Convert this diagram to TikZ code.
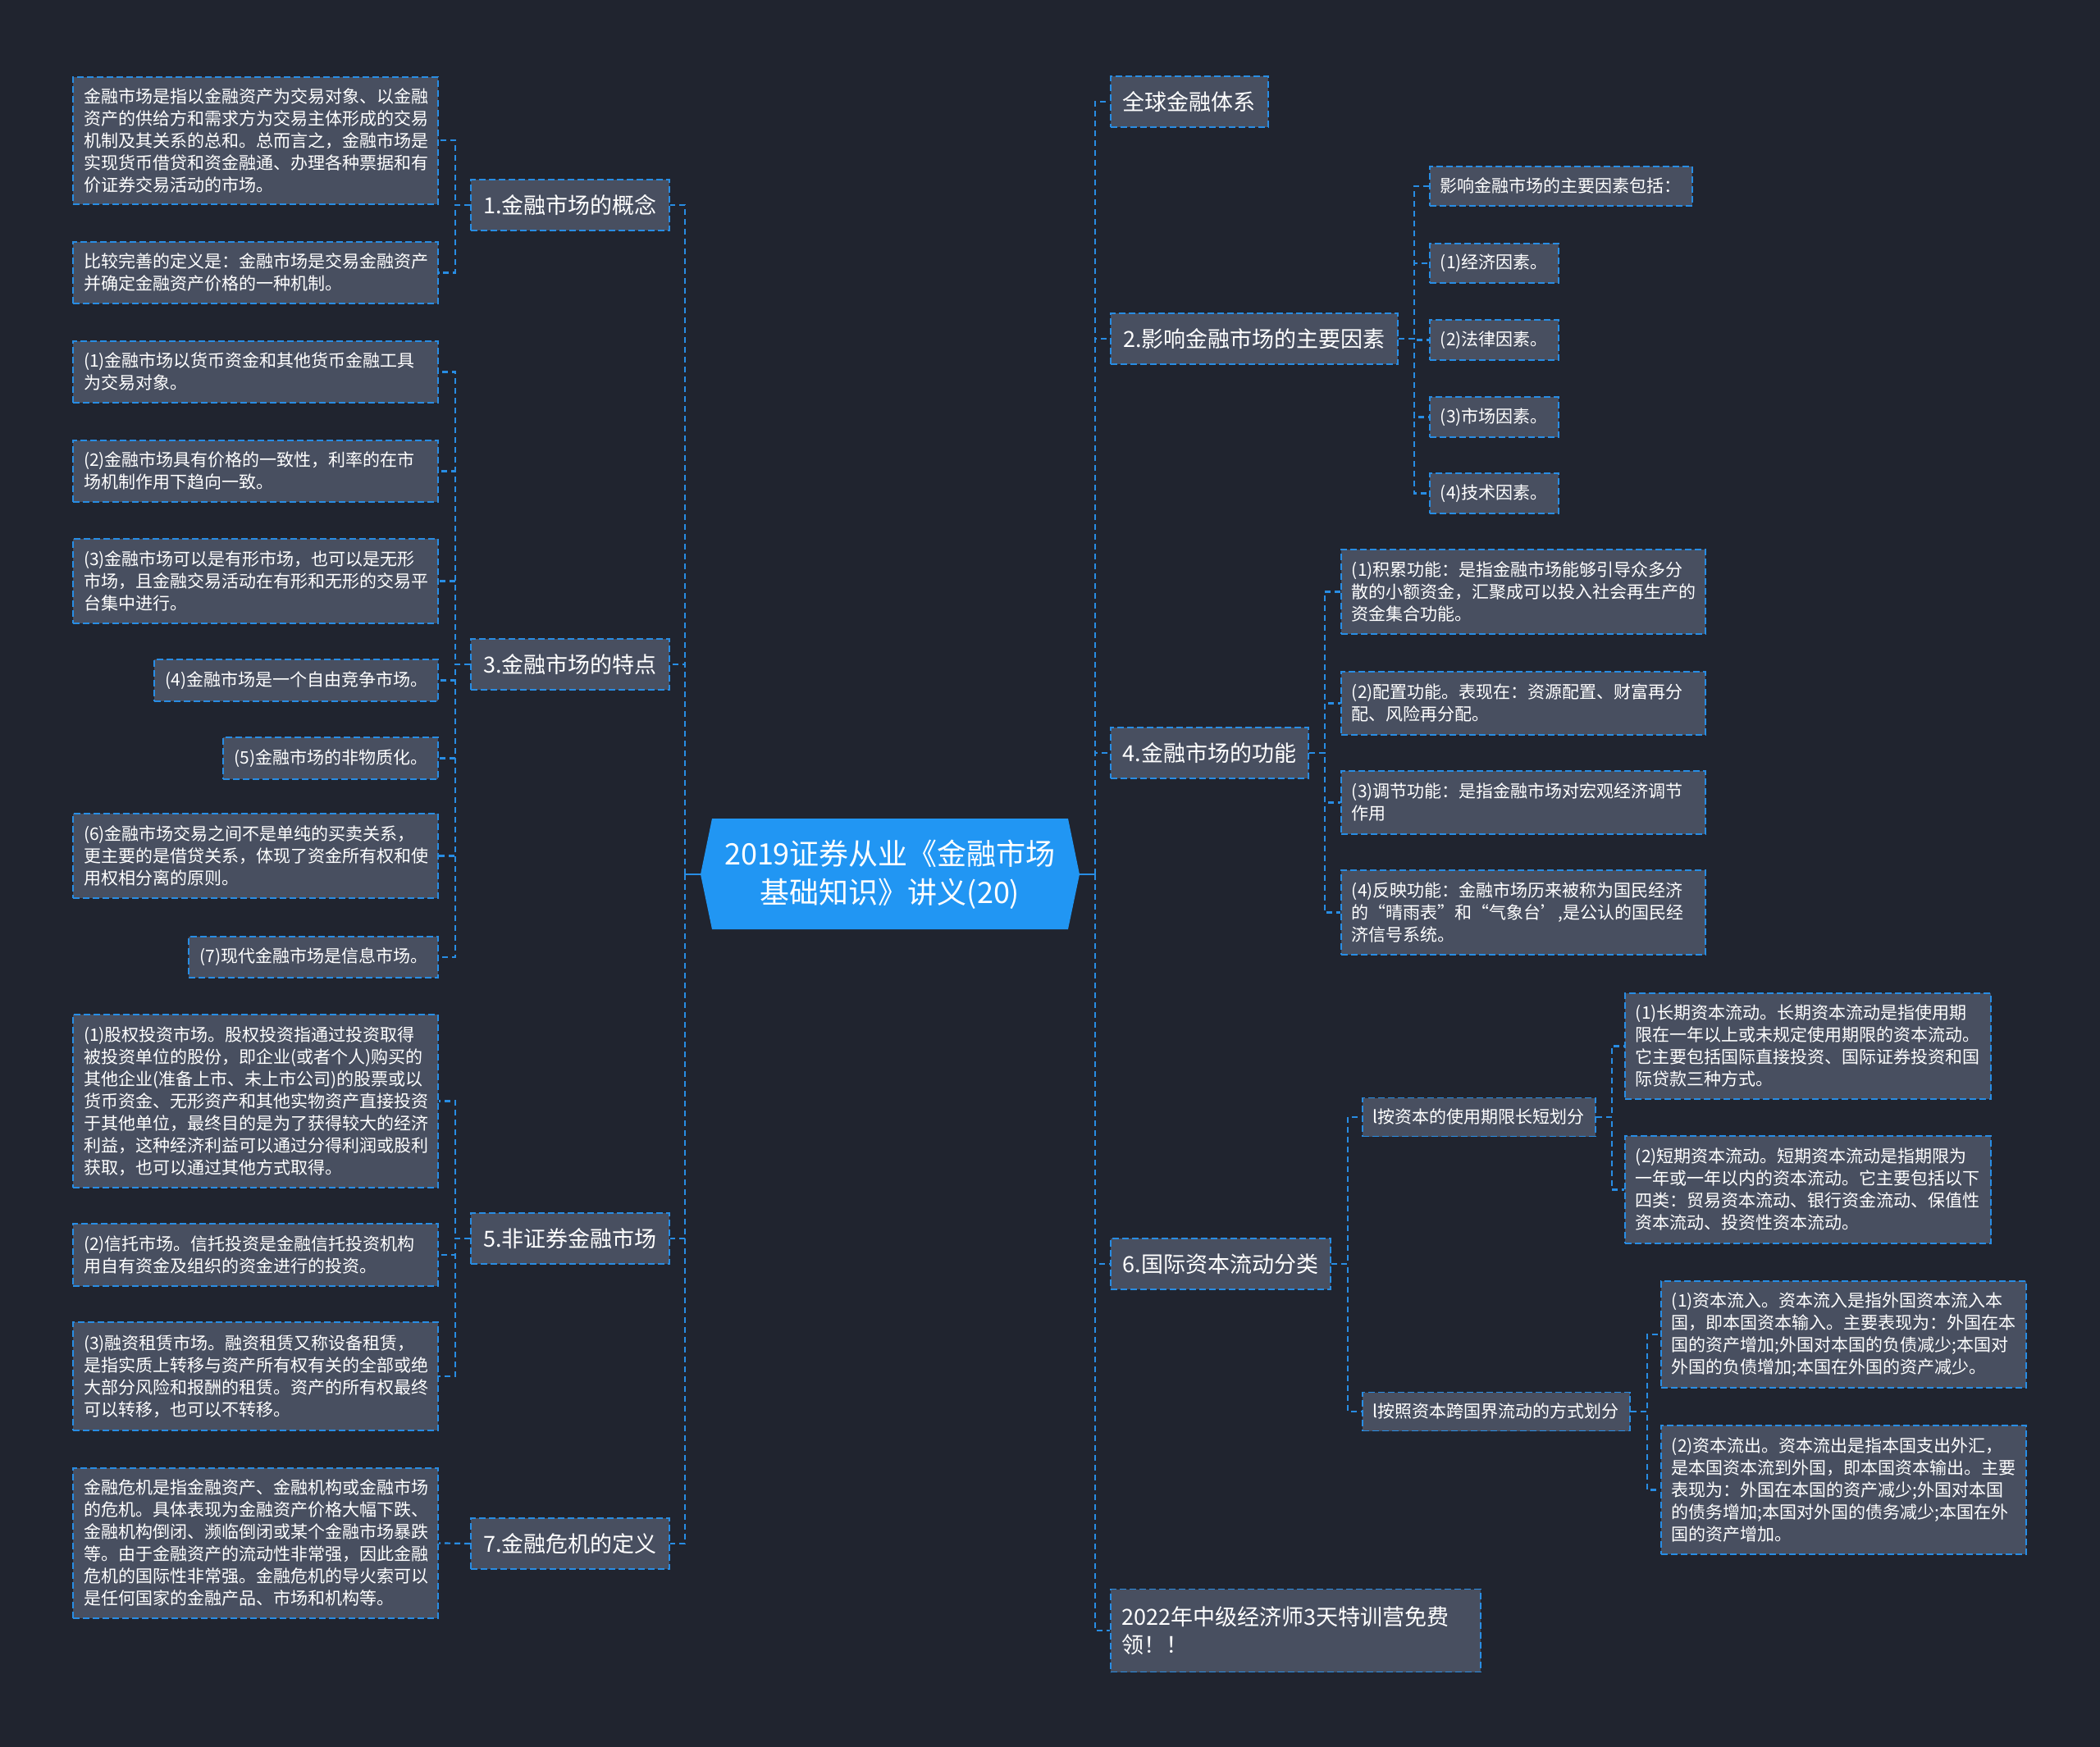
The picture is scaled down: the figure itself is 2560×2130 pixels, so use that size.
\documentclass[tikz,border=0pt]{standalone}
\usepackage{fontspec}
\setmainfont{Noto Sans CJK SC}
\definecolor{bgc}{HTML}{20242F}
\definecolor{boxc}{HTML}{484F60}
\definecolor{linec}{HTML}{288DE4}
\definecolor{centerc}{HTML}{2196F3}
\tikzset{
  box/.style={draw=linec, line width=1.8pt, dash pattern=on 8pt off 4pt, fill=boxc, text=white, inner xsep=13pt, inner ysep=4pt, align=left},
  leaf/.style={box, font=\fontsize{21}{27}\selectfont},
  lleaf/.style={leaf, anchor=north east},
  rleaf/.style={leaf, anchor=north west},
  cat/.style={box, font=\fontsize{27}{34}\selectfont, inner xsep=14pt, minimum height=62pt},
  link/.style={draw=linec, line width=2.2pt, dash pattern=on 7pt off 5pt},
  solidlink/.style={draw=linec, line width=2.6pt},
}
\begin{document}
\begin{tikzpicture}[x=1pt,y=-1pt]
\useasboundingbox (0,0) rectangle (2560,2130);
\fill[bgc] (0,0) rectangle (2560,2130);

% center
\fill[centerc] (854,1066) -- (868,998) -- (1302,998) -- (1316,1066) -- (1302,1133) -- (868,1133) -- cycle;
\node[text=white, font=\fontsize{36}{47}\selectfont, align=center, minimum width=462pt, minimum height=135pt, inner sep=0pt] (center) at (1085,1066) {2019证券从业《金融市场\\基础知识》讲义(20)};

% left categories
\node[cat, anchor=west, minimum width=242pt] (c1) at (573,250) {1.金融市场的概念};
\node[cat, anchor=west, minimum width=242pt] (c3) at (573,810) {3.金融市场的特点};
\node[cat, anchor=west, minimum width=242pt] (c5) at (573,1510) {5.非证券金融市场};
\node[cat, anchor=west, minimum width=242pt] (c7) at (573,1882) {7.金融危机的定义};

% left leaves
\node[lleaf, text width=419pt, minimum height=155pt] (l1a) at (535,93) {金融市场是指以金融资产为交易对象、以金融\\资产的供给方和需求方为交易主体形成的交易\\机制及其关系的总和。总而言之，金融市场是\\实现货币借贷和资金融通、办理各种票据和有\\价证券交易活动的市场。};
\node[lleaf, text width=419pt, minimum height=75pt] (l1b) at (535,294) {比较完善的定义是：金融市场是交易金融资产\\并确定金融资产价格的一种机制。};

\node[lleaf, text width=419pt, minimum height=75pt] (l3a) at (535,415) {(1)金融市场以货币资金和其他货币金融工具\\为交易对象。};
\node[lleaf, text width=419pt, minimum height=75pt] (l3b) at (535,536) {(2)金融市场具有价格的一致性，利率的在市\\场机制作用下趋向一致。};
\node[lleaf, text width=419pt, minimum height=103pt] (l3c) at (535,656) {(3)金融市场可以是有形市场，也可以是无形\\市场，且金融交易活动在有形和无形的交易平\\台集中进行。};
\node[lleaf, minimum height=51pt] (l3d) at (535,803) {(4)金融市场是一个自由竞争市场。};
\node[lleaf, minimum height=51pt] (l3e) at (535,898) {(5)金融市场的非物质化。};
\node[lleaf, text width=419pt, minimum height=103pt] (l3f) at (535,991) {(6)金融市场交易之间不是单纯的买卖关系，\\更主要的是借贷关系，体现了资金所有权和使\\用权相分离的原则。};
\node[lleaf, minimum height=50pt] (l3g) at (535,1141) {(7)现代金融市场是信息市场。};

\node[lleaf, text width=419pt, minimum height=211pt] (l5a) at (535,1236) {(1)股权投资市场。股权投资指通过投资取得\\被投资单位的股份，即企业(或者个人)购买的\\其他企业(准备上市、未上市公司)的股票或以\\货币资金、无形资产和其他实物资产直接投资\\于其他单位，最终目的是为了获得较大的经济\\利益，这种经济利益可以通过分得利润或股利\\获取，也可以通过其他方式取得。};
\node[lleaf, text width=419pt, minimum height=76pt] (l5b) at (535,1491) {(2)信托市场。信托投资是金融信托投资机构\\用自有资金及组织的资金进行的投资。};
\node[lleaf, text width=419pt, minimum height=132pt] (l5c) at (535,1611) {(3)融资租赁市场。融资租赁又称设备租赁，\\是指实质上转移与资产所有权有关的全部或绝\\大部分风险和报酬的租赁。资产的所有权最终\\可以转移，也可以不转移。};

\node[lleaf, text width=419pt, minimum height=183pt] (l7) at (535,1789) {金融危机是指金融资产、金融机构或金融市场\\的危机。具体表现为金融资产价格大幅下跌、\\金融机构倒闭、濒临倒闭或某个金融市场暴跌\\等。由于金融资产的流动性非常强，因此金融\\危机的国际性非常强。金融危机的导火索可以\\是任何国家的金融产品、市场和机构等。};

% right categories
\node[cat, anchor=west, minimum width=192pt] (r0) at (1353,124) {全球金融体系};
\node[cat, anchor=west, minimum width=350pt] (c2) at (1353,413) {2.影响金融市场的主要因素};
\node[cat, anchor=west, minimum width=241pt] (c4) at (1353,918) {4.金融市场的功能};
\node[cat, anchor=west, minimum width=268pt] (c6) at (1353,1541) {6.国际资本流动分类};
\node[cat, anchor=west, text width=423pt, minimum height=101pt] (r9) at (1353,1988) {2022年中级经济师3天特训营免费\\领！！};

% c2 leaves
\node[rleaf, minimum height=48pt] (l2a) at (1742,202) {影响金融市场的主要因素包括：};
\node[rleaf, minimum height=48pt] (l2b) at (1742,296) {(1)经济因素。};
\node[rleaf, minimum height=49pt] (l2c) at (1742,389) {(2)法律因素。};
\node[rleaf, minimum height=49pt] (l2d) at (1742,483) {(3)市场因素。};
\node[rleaf, minimum height=49pt] (l2e) at (1742,576) {(4)技术因素。};

% c4 leaves
\node[rleaf, text width=418pt, minimum height=103pt] (l4a) at (1634,669) {(1)积累功能：是指金融市场能够引导众多分\\散的小额资金，汇聚成可以投入社会再生产的\\资金集合功能。};
\node[rleaf, text width=418pt, minimum height=77pt] (l4b) at (1634,818) {(2)配置功能。表现在：资源配置、财富再分\\配、风险再分配。};
\node[rleaf, text width=418pt, minimum height=77pt] (l4c) at (1634,939) {(3)调节功能：是指金融市场对宏观经济调节\\作用};
\node[rleaf, text width=418pt, minimum height=103pt] (l4d) at (1634,1060) {(4)反映功能：金融市场历来被称为国民经济\\的“晴雨表”和“气象台’,是公认的国民经\\济信号系统。};

% c6 subs
\node[leaf, anchor=west, minimum height=47pt] (s1) at (1660,1362) {l按资本的使用期限长短划分};
\node[leaf, anchor=west, minimum height=47pt] (s2) at (1660,1721) {l按照资本跨国界流动的方式划分};

\node[rleaf, text width=420pt, minimum height=129pt] (l6a) at (1980,1210) {(1)长期资本流动。长期资本流动是指使用期\\限在一年以上或未规定使用期限的资本流动。\\它主要包括国际直接投资、国际证券投资和国\\际贷款三种方式。};
\node[rleaf, text width=420pt, minimum height=131pt] (l6b) at (1980,1384) {(2)短期资本流动。短期资本流动是指期限为\\一年或一年以内的资本流动。它主要包括以下\\四类：贸易资本流动、银行资金流动、保值性\\资本流动、投资性资本流动。};
\node[rleaf, text width=419pt, minimum height=130pt] (l6c) at (2024,1561) {(1)资本流入。资本流入是指外国资本流入本\\国，即本国资本输入。主要表现为：外国在本\\国的资产增加;外国对本国的负债减少;本国对\\外国的负债增加;本国在外国的资产减少。};
\node[rleaf, text width=419pt, minimum height=157pt] (l6d) at (2024,1737) {(2)资本流出。资本流出是指本国支出外汇，\\是本国资本流到外国，即本国资本输出。主要\\表现为：外国在本国的资产减少;外国对本国\\的债务增加;本国对外国的债务减少;本国在外\\国的资产增加。};

% connectors
\coordinate (sL) at (835,1066);
\coordinate (sR) at (1335,1066);
\draw[solidlink] (center.west) -- (sL);
\draw[solidlink] (center.east) -- (sR);
\draw[solidlink] ([yshift=-6pt]sL) -- ([yshift=6pt]sL);
\draw[solidlink] ([yshift=-6pt]sR) -- ([yshift=6pt]sR);
\foreach \n in {c1,c3,c5,c7} \draw[link] (sL) |- (\n.east);
\foreach \n in {r0,c2,c4,c6,r9} \draw[link] (sR) |- (\n.west);

\foreach \n in {l1a,l1b} \draw[link] (c1.west) -- ++(-18,0) |- (\n.east);
\foreach \n in {l3a,l3b,l3c,l3d,l3e,l3f,l3g} \draw[link] (c3.west) -- ++(-18,0) |- (\n.east);
\foreach \n in {l5a,l5b,l5c} \draw[link] (c5.west) -- ++(-18,0) |- (\n.east);
\draw[link] (c7.west) -- (l7.east);

\foreach \n in {l2a,l2b,l2c,l2d,l2e} \draw[link] (c2.east) -- ++(19,0) |- (\n.west);
\foreach \n in {l4a,l4b,l4c,l4d} \draw[link] (c4.east) -- ++(19,0) |- (\n.west);
\foreach \n in {s1,s2} \draw[link] (c6.east) -- ++(20,0) |- (\n.west);
\foreach \n in {l6a,l6b} \draw[link] (s1.east) -- ++(19,0) |- (\n.west);
\foreach \n in {l6c,l6d} \draw[link] (s2.east) -- ++(20,0) |- (\n.west);
\end{tikzpicture}
\end{document}
